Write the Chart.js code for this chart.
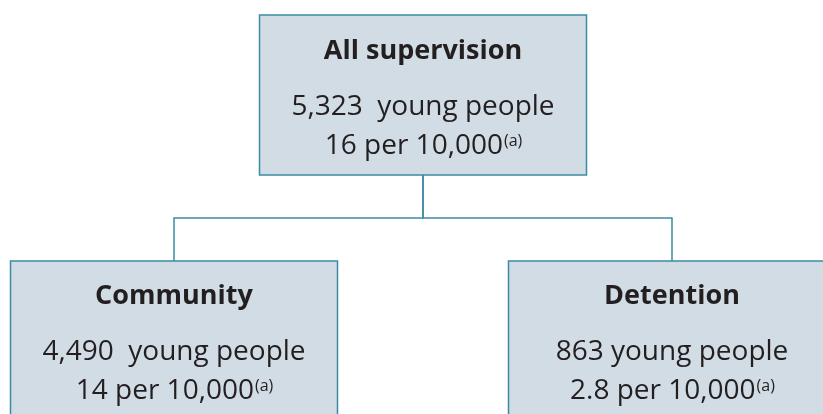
<!DOCTYPE html>
<html>
<head>
<meta charset="utf-8">
<script src="https://cdn.jsdelivr.net/npm/chart.js@4.4.1/dist/chart.umd.min.js"></script>
<style>
  html, body { margin: 0; padding: 0; background: #fff; overflow: hidden; }
  #wrap { width: 823px; height: 414px; position: relative; }
</style>
</head>
<body>
<div id="wrap"><canvas id="tree"></canvas></div>
<script>
// ========== data ==========
const nodeLabels = ['All supervision', 'Community', 'Detention'];
const youngPeople = [5323, 4490, 863];
const countGap = ['  ', '  ', ' '];
const ratePer10k = [16, 14, 2.8];
const rateNote = '(a)';
const parentOf = [null, 0, 0];

// ========== layout (chart units, y down) ==========
const boxCenterX = [423, 174, 672];
const boxTop = [15, 261, 261];
const boxW = 327;
const boxH = 160;
const elbowY = 218;

const teal = '#3b8ca2';
const fill = '#d1dce5';
const ink = '#231f20';

// connector lines: parent bottom -> elbow -> child top
const connectors = [];
parentOf.forEach((p, i) => {
    if (p === null) return;
    connectors.push({
        data: [
            { x: boxCenterX[p], y: boxTop[p] + boxH },
            { x: boxCenterX[p], y: elbowY },
            { x: boxCenterX[i], y: elbowY },
            { x: boxCenterX[i], y: boxTop[i] }
        ],
        showLine: true,
        borderColor: teal,
        borderWidth: 1.5,
        pointRadius: 0,
        tension: 0
    });
});

const boxPlugin = {
    id: 'boxes',
    beforeDatasetsDraw(chart) {
        const { ctx, scales: { x, y } } = chart;
        const W = chart.width;
        ctx.save();
        nodeLabels.forEach((_, i) => {
            const l = x.getPixelForValue(boxCenterX[i] - boxW / 2);
            const r = x.getPixelForValue(boxCenterX[i] + boxW / 2);
            const t = y.getPixelForValue(boxTop[i]);
            const b = y.getPixelForValue(boxTop[i] + boxH);
            ctx.fillStyle = fill;
            ctx.fillRect(l, t, Math.min(r, W + 2) - l, b - t);
            ctx.strokeStyle = teal;
            ctx.lineWidth = 1.5;
            ctx.beginPath();
            ctx.moveTo(Math.min(r, W + 5), t);
            ctx.lineTo(l, t);
            ctx.lineTo(l, b);
            ctx.lineTo(Math.min(r, W + 5), b);
            if (r <= W) ctx.closePath();
            ctx.stroke();
        });
        ctx.restore();
    },
    afterDatasetsDraw(chart) {
        const { ctx, scales: { x, y } } = chart;
        ctx.save();
        ctx.fillStyle = ink;
        ctx.textBaseline = 'alphabetic';
        nodeLabels.forEach((label, i) => {
            const cx = x.getPixelForValue(boxCenterX[i]);
            const top = y.getPixelForValue(boxTop[i]);
            const off = i === 0 ? 0 : -1;

            ctx.textAlign = 'center';
            ctx.font = 'bold 27px "Open Sans"';
            ctx.fillText(label, cx, top + 44 + off);

            ctx.font = '28px "Open Sans"';
            const count = youngPeople[i].toLocaleString('en-US') + countGap[i] + 'young people';
            ctx.fillText(count, cx, top + 100 + off);

            // rate line with superscript note
            const rate = ratePer10k[i] + ' per 10,000';
            ctx.font = '28px "Open Sans"';
            const w1 = ctx.measureText(rate).width;
            ctx.font = '16px "Open Sans"';
            const w2 = ctx.measureText(rateNote).width;
            const start = cx - (w1 + w2) / 2;
            ctx.textAlign = 'left';
            ctx.font = '28px "Open Sans"';
            ctx.fillText(rate, start, top + 139 + off);
            ctx.font = '16px "Open Sans"';
            ctx.fillText(rateNote, start + w1 + 1, top + 131 + off);
        });
        ctx.restore();
    }
};

new Chart(document.getElementById('tree'), {
    type: 'scatter',
    data: { datasets: connectors },
    options: {
        responsive: true,
        maintainAspectRatio: false,
        animation: false,
        layout: { padding: 0 },
        scales: {
            x: { type: 'linear', min: 0, max: 823, display: false },
            y: { type: 'linear', min: 0, max: 414, reverse: true, display: false }
        },
        plugins: {
            legend: { display: false },
            tooltip: { enabled: false }
        }
    },
    plugins: [boxPlugin]
});
</script>
</body>
</html>
